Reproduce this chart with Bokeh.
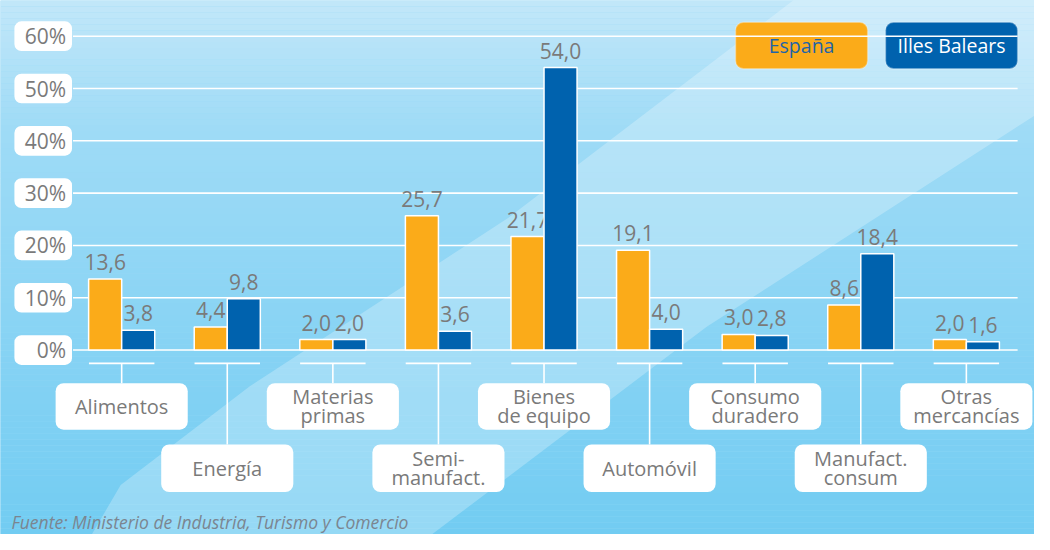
from bokeh.plotting import figure
from bokeh.models import Range1d, BoxAnnotation
from bokeh.core.properties import value
from bokeh.embed import file_html
from bokeh.resources import INLINE

# ---------------- data ----------------
categories = ["Alimentos", "Energía", "Materias\nprimas", "Semi-\nmanufact.",
              "Bienes\nde equipo", "Automóvil", "Consumo\nduradero",
              "Manufact.\nconsum", "Otras\nmercancías"]
series = ["España", "Illes Balears"]
espana = [13.6, 4.4, 2.0, 25.7, 21.7, 19.1, 3.0, 8.6, 2.0]
baleares = [3.8, 9.8, 2.0, 3.6, 54.0, 4.0, 2.8, 18.4, 1.6]
y_ticks = [0, 10, 20, 30, 40, 50, 60]
y_tick_labels = ["0%", "10%", "20%", "30%", "40%", "50%", "60%"]
source_note = "Fuente: Ministerio de Industria, Turismo y Comercio"

# ---------------- layout helpers (reference pixel -> data units) ----------------
PX_X, X0 = 106.3, 131.0
PX_Y, Y0 = 5.29, 363.5


def ux(px):
    return (px - X0) / PX_X


def uy(px):
    return (Y0 - px) / PX_Y


ORANGE = "#FBAB19"
BLUE = "#0062AE"
GRAY = "#7a7a7a"
FONT = value("Open Sans")

p = figure(width=1034, height=534, output_backend="svg", toolbar_location=None,
           x_range=Range1d(ux(9), ux(1050)), y_range=Range1d(uy(550), uy(10)),
           min_border=0, outline_line_color=None)
p.axis.visible = False
p.grid.visible = False
p.background_fill_color = "#99d9f5"
p.border_fill_color = "#99d9f5"

# ---- background vertical gradient (piecewise) ----
stops = [(10, (0xC2, 0xE7, 0xF9)), (140, (0x9F, 0xDB, 0xF6)), (550, (0x72, 0xCC, 0xF2))]


def grad(ypx):
    for (y0, c0), (y1, c1) in zip(stops[:-1], stops[1:]):
        if y0 <= ypx <= y1:
            t = (ypx - y0) / (y1 - y0)
            return "#%02x%02x%02x" % tuple(int(round(c0[k] + (c1[k] - c0[k]) * t)) for k in range(3))
    return "#%02x%02x%02x" % stops[-1][1]


n = 90
edges = [10 + i * 540 / n for i in range(n + 1)]
bg = p.quad(left=ux(0), right=ux(1060), top=[uy(e) for e in edges[:-1]],
            bottom=[uy(e) for e in edges[1:]],
            fill_color=[grad((a + b) / 2) for a, b in zip(edges[:-1], edges[1:])],
            line_color=None)
bg.level = "image"

# ---- lighter diagonal band ----
band_x = [ux(v) for v in [95, 130, 260, 520, 820, 1060, 1060, 720, 430]]
band_y = [uy(v) for v in [560, 500, 400, 230, 0, 0, 120, 340, 560]]
band = p.patch(band_x, band_y, fill_color="white", fill_alpha=0.25, line_color=None)
band.level = "image"

# ---- gridlines ----
p.segment(x0=[ux(82)] * len(y_ticks), x1=[ux(1033)] * len(y_ticks), y0=y_ticks, y1=y_ticks,
          line_color="white", line_width=1.6)

# ---- y tick label boxes ----
half_h = 15 / PX_Y
for t in y_ticks:
    b = BoxAnnotation(left=ux(23), right=ux(81), bottom=t - half_h, top=t + half_h,
                      fill_color="white", fill_alpha=1.0, line_color=None,
                      border_radius=7, level="underlay")
    p.add_layout(b)
p.text(x=[ux(75)] * len(y_ticks), y=y_ticks, text=y_tick_labels, text_align="right",
       text_baseline="middle", text_font=FONT, text_font_size="21px", text_color=GRAY)

# ---- category separators / connectors / label boxes ----
idx = list(range(len(categories)))
sep_y = uy(377)
p.segment(x0=[i - 0.31 for i in idx], x1=[i + 0.31 for i in idx], y0=[sep_y] * len(idx),
          y1=[sep_y] * len(idx), line_color="white", line_width=1.6)
upper = (uy(397), uy(444))
lower = (uy(459), uy(507))
box_top = [upper[0] if i % 2 == 0 else lower[0] for i in idx]
box_bot = [upper[1] if i % 2 == 0 else lower[1] for i in idx]
p.segment(x0=idx, x1=idx, y0=[sep_y] * len(idx), y1=box_top, line_color="white",
          line_width=1.6)
half_w = 66.5 / PX_X
for i in idx:
    b = BoxAnnotation(left=i - half_w, right=i + half_w, top=box_top[i], bottom=box_bot[i],
                      fill_color="white", fill_alpha=1.0, line_color=None,
                      border_radius=8, level="underlay")
    p.add_layout(b)
p.text(x=idx, y=[(a + b) / 2 for a, b in zip(box_top, box_bot)], text=categories,
       text_align="center", text_baseline="middle", text_font=FONT, text_font_size="20px",
       text_color=GRAY, text_line_height=0.7)

# ---- bars and value labels ----
bw = 0.313
off = bw / 2
fmt = lambda v: ("%.1f" % v).replace(".", ",")
p.vbar(x=[i - off for i in idx], top=espana, bottom=0, width=bw, fill_color=ORANGE,
       line_color="white", line_width=1.5)
p.text(x=[i - off for i in idx], y=espana, text=[fmt(v) for v in espana], y_offset=-17,
       text_align="center", text_baseline="alphabetic", text_font=FONT,
       text_font_size="21px", text_color=GRAY)
p.vbar(x=[i + off for i in idx], top=baleares, bottom=0, width=bw, fill_color=BLUE,
       line_color="white", line_width=1.5)
p.text(x=[i + off for i in idx], y=baleares, text=[fmt(v) for v in baleares], y_offset=-17,
       text_align="center", text_baseline="alphabetic", text_font=FONT,
       text_font_size="21px", text_color=GRAY)

# ---- legend ----
leg_left = [ux(749), ux(900)]
leg_w = 133 / PX_X
for lx, col in zip(leg_left, [ORANGE, BLUE]):
    b = BoxAnnotation(left=lx, right=lx + leg_w, top=uy(32), bottom=uy(79),
                      fill_color=col, fill_alpha=1.0, line_color="white", line_width=1.5,
                      border_radius=8, level="underlay")
    p.add_layout(b)
p.text(x=[lx + leg_w / 2 for lx in leg_left], y=[uy(56)] * 2, text=series,
       text_align="center", text_baseline="middle", text_font=FONT, text_font_size="19.5px",
       text_color=["#1F64A8", "white"])

# ---- source note ----
p.text(x=[ux(20)], y=[uy(537)], text=[source_note], text_align="left",
       text_baseline="alphabetic", text_font=FONT, text_font_style="italic",
       text_font_size="17.5px", text_color="#7b8590")

open("out.html", "w").write(file_html(p, INLINE))
